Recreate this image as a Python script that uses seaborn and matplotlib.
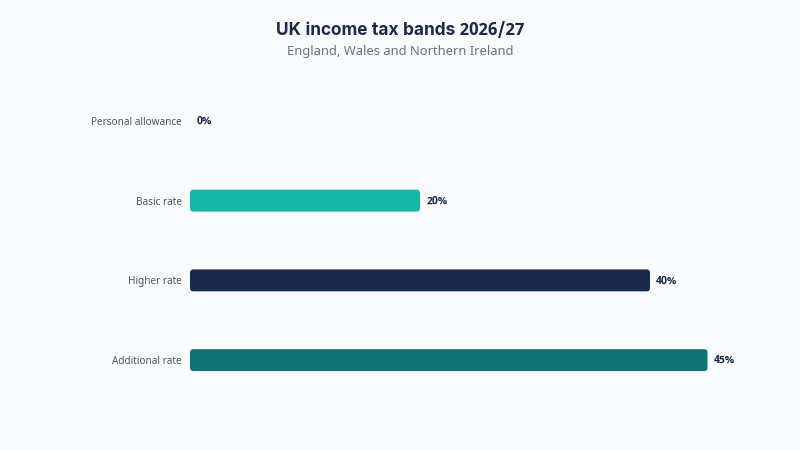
import matplotlib
matplotlib.use("Agg")
import matplotlib.pyplot as plt
import seaborn as sns
import pandas as pd
from matplotlib.patches import FancyBboxPatch

categories = ["Personal allowance", "Basic rate", "Higher rate", "Additional rate"]
rates = [0, 20, 40, 45]
colors = ["#94a3b8", "#14b8a6", "#1b2a4a", "#0f7472"]
value_labels = ["0%", "20%", "40%", "45%"]

df = pd.DataFrame({"band": categories, "rate": rates})

sns.set_theme(style="white")
plt.rcParams["font.family"] = ["Noto Sans", "DejaVu Sans"]
bold_family = ["Noto Sans Devanagari UI", "Inter", "DejaVu Sans"]

bg = "#f8fafc"
fig = plt.figure(figsize=(8, 4.5), dpi=100, facecolor=bg)
ax = fig.add_axes([190 / 800, 1 - 400 / 450, 570 / 800, (400 - 81) / 450])
ax.set_facecolor(bg)

sns.barplot(data=df, x="rate", y="band", hue="band", palette=colors,
            orient="h", width=0.275, legend=False, ax=ax, saturation=1)

xmax = 570 / 11.5
ax.set_xlim(0, xmax)
ax.set_ylim(3.5, -0.5)

# replace bars with rounded versions
px_x = 11.5
px_y = 80
r_px = 3.5
patches = list(ax.patches)
for p in patches:
    x0, y0 = p.get_x(), p.get_y()
    w, h = p.get_width(), p.get_height()
    fc = p.get_facecolor()
    p.remove()
    if w <= 0:
        continue
    fb = FancyBboxPatch((x0, y0), w, h,
                        boxstyle=f"round,pad=0,rounding_size={r_px / px_x}",
                        mutation_aspect=px_x / px_y,
                        facecolor=fc, edgecolor="none", zorder=2)
    ax.add_patch(fb)

for i, (v, lab) in enumerate(zip(rates, value_labels)):
    ax.annotate(lab, xy=(v, i), xytext=(4.5, 0), textcoords="offset points",
                ha="left", va="center", fontsize=7.7, fontweight="bold",
                family=bold_family, color="#1b2a4a")

ax.set_xlabel("")
ax.set_ylabel("")
ax.set_xticks([])
ax.tick_params(axis="y", length=0, pad=6, labelsize=7.2, labelcolor="#4b5563")
for s in ax.spines.values():
    s.set_visible(False)

fig.text(0.5, 1 - 30 / 450, "UK income tax bands 2026/27", ha="center", va="center",
         fontsize=12.4, fontweight="bold", family=bold_family, color="#1b2a4a")
fig.text(0.5, 1 - 51 / 450, "England, Wales and Northern Ireland", ha="center", va="center",
         fontsize=9.3, color="#6b7280")

fig.savefig("out.png", dpi=100, facecolor=bg)
